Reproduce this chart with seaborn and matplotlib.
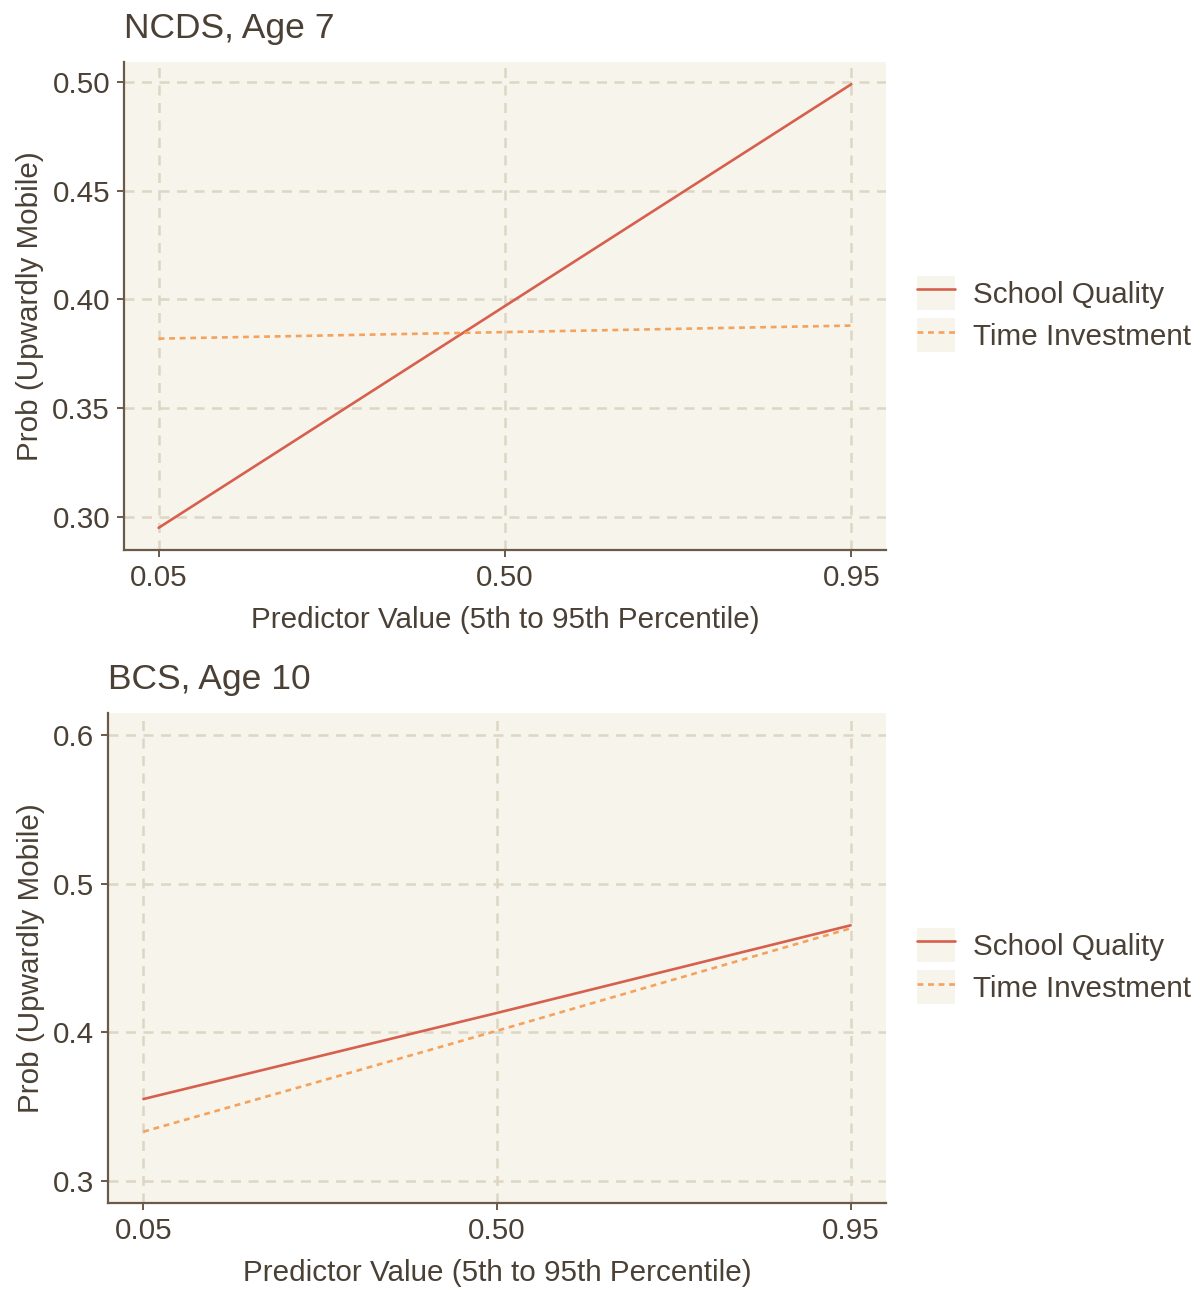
"""
Predicted probability of upward mobility across the predictor range,
NCDS (age 7) and BCS (age 10) cohorts.
"""
# %%
import numpy as np
import pandas as pd
import seaborn as sns
import matplotlib
matplotlib.use("Agg")
import matplotlib.pyplot as plt
from matplotlib.patches import Patch
from matplotlib.lines import Line2D
from matplotlib.legend_handler import HandlerTuple

# %% Data
x_pct = [0.05, 0.50, 0.95]
x_ticklabels = ["0.05", "0.50", "0.95"]
series_names = ["School Quality", "Time Investment"]

ncds_school = [0.295, 0.397, 0.499]
ncds_time = [0.382, 0.385, 0.388]
ncds_yticks = [0.30, 0.35, 0.40, 0.45, 0.50]

bcs_school = [0.355, 0.413, 0.472]
bcs_time = [0.333, 0.401, 0.470]
bcs_yticks = [0.3, 0.4, 0.5, 0.6]

# %% Style
BG = "#F7F4EC"
GRID = "#DDD6C4"
AXIS = "#6B5A48"
TEXT = "#4A4035"
RED = "#D6604D"
ORANGE = "#F4A25C"
FS = 21.3
LW = 1.9
DOTS = (0, (2.2, 1.8))

sns.set_theme(style="white")
plt.rcParams["font.family"] = ["Liberation Sans", "DejaVu Sans"]
plt.rcParams["text.color"] = TEXT
plt.rcParams["axes.labelcolor"] = TEXT
plt.rcParams["xtick.color"] = AXIS
plt.rcParams["ytick.color"] = AXIS


def long_df(school, time):
    return pd.DataFrame({
        "x": x_pct * 2,
        "y": list(school) + list(time),
        "series": [series_names[0]] * len(x_pct) + [series_names[1]] * len(x_pct),
    })


def draw_panel(ax, df, title, yticks, yfmt, ylim=None):
    ax.set_facecolor(BG)
    sns.lineplot(
        data=df, x="x", y="y", hue="series", style="series",
        palette={series_names[0]: RED, series_names[1]: ORANGE},
        dashes={series_names[0]: "", series_names[1]: DOTS[1]},
        linewidth=LW, legend=False, ax=ax, zorder=3,
    )
    ax.set_xlim(0.005, 0.995)
    if ylim is None:
        lo, hi = df.y.min(), df.y.max()
        pad = (hi - lo) * 0.05
        ylim = (lo - pad, hi + pad)
    ax.set_ylim(*ylim)
    ax.set_xticks(x_pct)
    ax.set_xticklabels(x_ticklabels)
    ax.set_yticks(yticks)
    ax.set_yticklabels([yfmt.format(v) for v in yticks])
    ax.grid(True, color=GRID, linestyle=(0, (4, 3)), linewidth=1.8)
    ax.set_axisbelow(True)
    for s in ["top", "right"]:
        ax.spines[s].set_visible(False)
    for s in ["left", "bottom"]:
        ax.spines[s].set_color(AXIS)
        ax.spines[s].set_linewidth(1.6)
    ax.tick_params(axis="both", direction="out", length=5, width=1.4,
                   labelsize=FS, labelcolor=TEXT, pad=5, left=True, bottom=True)
    ax.set_xlabel("Predictor Value (5th to 95th Percentile)", fontsize=FS, labelpad=10)
    ax.set_ylabel("Prob (Upwardly Mobile)", fontsize=FS, labelpad=6)
    ax.set_title(title, loc="left", fontsize=25.5, color=TEXT, pad=17.5)


def add_legend(fig, anchor):
    handles = [
        (Patch(facecolor=BG, edgecolor="none"), Line2D([], [], color=RED, lw=LW)),
        (Patch(facecolor=BG, edgecolor="none"),
         Line2D([], [], color=ORANGE, lw=LW, linestyle=DOTS)),
    ]
    fig.legend(handles, series_names, loc="center left", bbox_to_anchor=anchor,
               handler_map={tuple: HandlerTuple(ndivide=1, pad=0)},
               frameon=False, fontsize=FS, handlelength=1.3, handleheight=1.4,
               handletextpad=0.6, labelspacing=0.28, borderpad=0, borderaxespad=0,
               labelcolor=TEXT)


# %% Figure
fig = plt.figure(figsize=(12, 12.9), dpi=100)
fig.patch.set_facecolor("white")

ax_top = fig.add_axes([124 / 1200, 1 - 550 / 1290, 762 / 1200, 488 / 1290])
ax_bot = fig.add_axes([108 / 1200, 1 - 1203 / 1290, 778 / 1200, 490 / 1290])

draw_panel(ax_top, long_df(ncds_school, ncds_time), "NCDS, Age 7",
           ncds_yticks, "{:.2f}")
draw_panel(ax_bot, long_df(bcs_school, bcs_time), "BCS, Age 10",
           bcs_yticks, "{:.1f}", ylim=(0.285, 0.615))

add_legend(fig, (917 / 1200, 1 - 314 / 1290))
add_legend(fig, (917 / 1200, 1 - 966 / 1290))

fig.savefig("out.png", dpi=100, facecolor="white")
